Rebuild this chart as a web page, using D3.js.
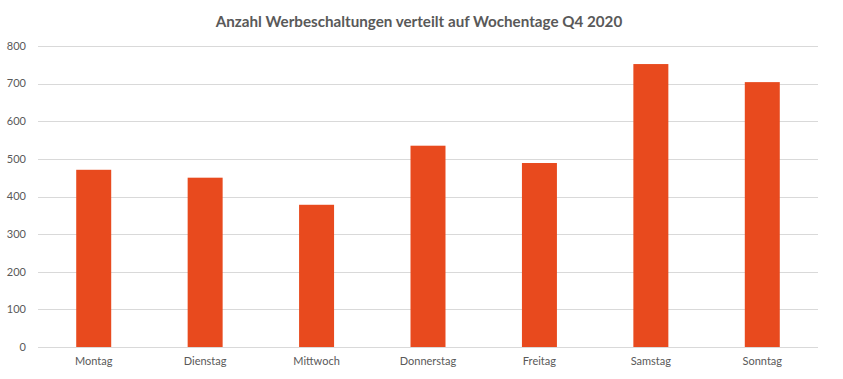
<!DOCTYPE html>
<html><head><meta charset="utf-8">
<script src="https://cdn.jsdelivr.net/npm/d3@7"></script>
<style>body{margin:0;background:#fff}svg{display:block}</style>
</head><body>
<svg id="c" width="843" height="379"></svg>
<script>
const categories = ["Montag","Dienstag","Mittwoch","Donnerstag","Freitag","Samstag","Sonntag"];
const values = [471, 450, 378, 535, 489, 752, 704];
const yTicks = [0,100,200,300,400,500,600,700,800];
const title = "Anzahl Werbeschaltungen verteilt auf Wochentage Q4 2020";

const svg = d3.select("#c");
const W = 843, H = 379;
const m = {left: 38, right: 25, top: 46, bottom: 32};
const x = d3.scaleBand().domain(categories).range([m.left, W - m.right]).paddingInner(0.686).paddingOuter(0.343);
const y = d3.scaleLinear().domain([0, 800]).range([H - m.bottom, m.top]);
const font = "Lato, 'Open Sans', sans-serif";

svg.append("g").selectAll("line").data(yTicks).join("line")
  .attr("x1", m.left).attr("x2", W - m.right)
  .attr("y1", d => Math.round(y(d)) + 0.5).attr("y2", d => Math.round(y(d)) + 0.5)
  .attr("stroke", "#d9d9d9").attr("stroke-width", 1);

svg.append("g").selectAll("text").data(yTicks).join("text")
  .attr("x", m.left - 12).attr("y", d => y(d)).attr("dy", "0.35em")
  .attr("text-anchor", "end").attr("font-family", font).attr("font-size", 11)
  .attr("fill", "#595959").text(d => d);

svg.append("g").selectAll("rect").data(values).join("rect")
  .attr("x", (d, i) => x(categories[i])).attr("width", x.bandwidth())
  .attr("y", d => y(d)).attr("height", d => y(0) - y(d))
  .attr("fill", "#E84A1E");

svg.append("g").selectAll("text").data(categories).join("text")
  .attr("x", d => x(d) + x.bandwidth() / 2).attr("y", H - m.bottom + 18)
  .attr("text-anchor", "middle").attr("font-family", font).attr("font-size", 11)
  .attr("fill", "#595959").text(d => d);

svg.append("text").attr("x", 419).attr("y", 27).attr("text-anchor", "middle")
  .attr("font-family", font).attr("font-weight", "bold").attr("font-size", 15.2)
  .attr("fill", "#595959").text(title);
</script>
</body></html>
